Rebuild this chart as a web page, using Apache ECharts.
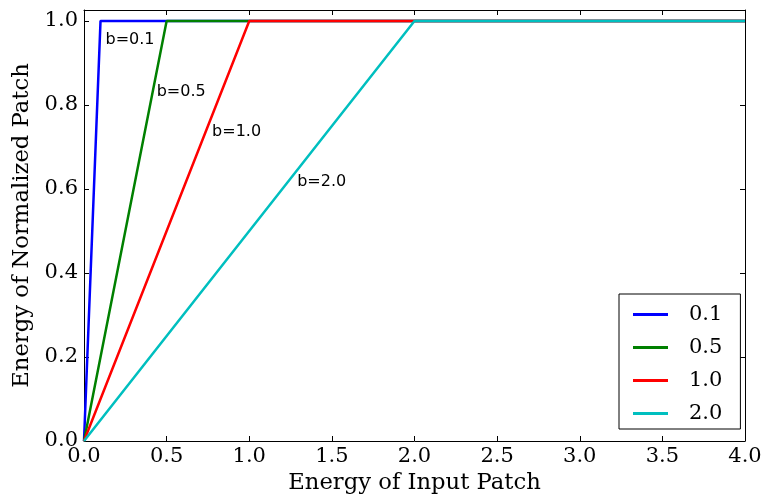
<!DOCTYPE html>
<html>
<head>
<meta charset="utf-8">
<script src="https://cdn.jsdelivr.net/npm/echarts@6/dist/echarts.min.js"></script>
<style>html,body{margin:0;padding:0;background:#fff}#c{width:765px;height:495px}</style>
</head>
<body>
<div id="c"></div>
<script>
// Data
const seriesNames = ['0.1', '0.5', '1.0', '2.0'];
const seriesColors = ['#0000ff', '#008000', '#ff0000', '#00bfbf'];
const line01 = [[0, 0], [0.1, 1], [4, 1]];
const line05 = [[0, 0], [0.5, 1], [4, 1]];
const line10 = [[0, 0], [1.0, 1], [4, 1]];
const line20 = [[0, 0], [2.0, 1], [4, 1]];
const annotTexts = ['b=0.1', 'b=0.5', 'b=1.0', 'b=2.0'];
const annotPos = [[0.13, 0.955], [0.44, 0.831], [0.775, 0.737], [1.29, 0.618]];
const xTicks = [0, 0.5, 1, 1.5, 2, 2.5, 3, 3.5, 4];
const yTicks = [0, 0.2, 0.4, 0.6, 0.8, 1.0];

const lines = [line01, line05, line10, line20];
const serif = 'DejaVu Serif';
const sans = 'DejaVu Sans';

const isTick = (arr, v) => arr.some(t => Math.abs(t - v) < 1e-9);

const axisCommon = {
  axisLine: { show: true, onZero: false, lineStyle: { color: '#000', width: 1 } },
  axisTick: { show: true, inside: true, length: 5, lineStyle: { color: '#000' } },
  splitLine: { show: false }
};

const chart = echarts.init(document.getElementById('c'));
const series = lines.map((d, i) => ({
  type: 'line', name: seriesNames[i], data: d, symbol: 'none',
  lineStyle: { color: seriesColors[i], width: 2.5 }, itemStyle: { color: seriesColors[i] },
  animation: false, z: 3
}));
series.push({
  type: 'scatter', data: annotPos.map((p, i) => ({ value: p, name: annotTexts[i] })),
  symbolSize: 0, silent: true, animation: false,
  itemStyle: { opacity: 1, color: '#000' },
  label: { show: true, position: 'right', distance: 0, formatter: p => p.name,
    fontFamily: sans, fontSize: 16, color: '#000', opacity: 1 }
});

chart.setOption({
  animation: false,
  grid: { left: 84, right: 20, top: 10, bottom: 54, containLabel: false, outerBoundsMode: 'none' },
  xAxis: [
    Object.assign({}, axisCommon, {
      type: 'value', min: 0, max: 4, interval: 0.5, position: 'bottom',
      name: 'Energy of Input Patch', nameLocation: 'middle', nameGap: 29,
      nameTextStyle: { fontFamily: serif, fontSize: 22.7, color: '#000' },
      axisLabel: { fontFamily: serif, fontSize: 21, color: '#000', margin: 5,
        formatter: v => isTick(xTicks, v) ? v.toFixed(1) : '' }
    }),
    Object.assign({}, axisCommon, {
      type: 'value', min: 0, max: 4, interval: 0.5, position: 'top',
      axisLabel: { show: false }
    })
  ],
  yAxis: [
    Object.assign({}, axisCommon, {
      type: 'value', min: 0, max: 1.026, interval: 0.2, position: 'left',
      name: 'Energy of Normalized Patch', nameLocation: 'middle', nameGap: 48,
      nameTextStyle: { fontFamily: serif, fontSize: 22.7, color: '#000' },
      axisLabel: { fontFamily: serif, fontSize: 21, color: '#000', margin: 6,
        formatter: v => isTick(yTicks, v) ? v.toFixed(1) : '' }
    }),
    Object.assign({}, axisCommon, {
      type: 'value', min: 0, max: 1.026, interval: 0.2, position: 'right',
      axisLabel: { show: false }
    })
  ],
  legend: {
    data: seriesNames, orient: 'vertical', left: 619, top: 294,
    width: 115, padding: [10, 18, 5, 14],
    itemWidth: 35, itemHeight: 3, itemGap: 12, icon: 'rect',
    borderColor: '#000', borderWidth: 1, backgroundColor: '#fff',
    textStyle: { fontFamily: serif, fontSize: 21, color: '#000', padding: [0, 0, 0, 16] }
  },
  series: series
});
</script>
</body>
</html>
